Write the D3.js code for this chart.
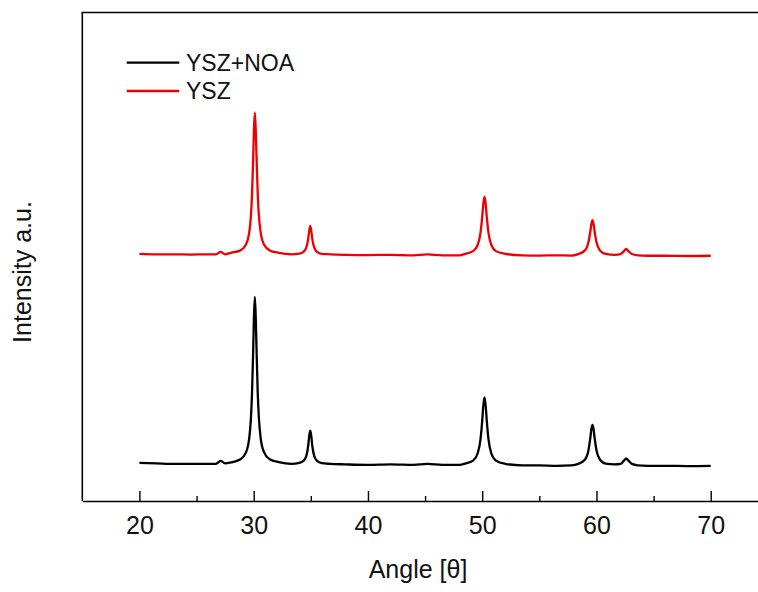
<!DOCTYPE html>
<html>
<head>
<meta charset="utf-8">
<script src="https://cdn.jsdelivr.net/npm/d3@7"></script>
<style>
  body { margin: 0; background: #fff; }
  svg { display: block; font-family: "Liberation Sans", Arial, sans-serif; }
</style>
</head>
<body>
<svg id="chart" width="758" height="592"></svg>
<script>
// diffraction angle, shared by both patterns
var angles = [20, 21.5, 23, 24.5, 26, 26.7, 27.1, 27.5, 28.0,
  28.8, 29.3, 29.6, 29.75, 29.85, 29.95, 30.02, 30.1, 30.18, 30.25, 30.35, 30.45, 30.6, 30.9, 31.4, 32.2,
  33.3, 34.0, 34.35, 34.6, 34.75, 34.88, 34.95, 35.02, 35.15, 35.3, 35.55, 35.95, 36.7,
  38, 40, 42, 44, 45.2, 46.5, 48,
  48.5, 49.2, 49.6, 49.85, 50.0, 50.1, 50.2, 50.3, 50.4, 50.55, 50.8, 51.2, 52.0,
  53.5, 55, 56.5, 57.8,
  58.4, 59.0, 59.3, 59.45, 59.57, 59.65, 59.73, 59.85, 60.0, 60.3, 60.8,
  61.6, 62.1, 62.4, 62.6, 62.8, 63.1, 63.6,
  64.5, 66, 68, 70];

// intensity (a.u., stacked as plotted)
var ysznoa = [7.8, 7.7, 7.6, 7.6, 7.6, 7.6, 8.2, 7.7, 7.9,
  8.5, 9.8, 12.7, 16.6, 21.8, 30.2, 37.5, 41.8, 37.5, 31.1, 22.4, 17.2, 13.1, 10.0, 8.55, 7.95,
  7.6, 7.8, 8.2, 9.2, 10.95, 13.65, 14.4, 13.65, 10.95, 9.2, 8.2, 7.75, 7.6,
  7.5, 7.4, 7.5, 7.4, 7.6, 7.4, 7.4,
  7.65, 8.27, 9.72, 12.6, 16.4, 19.6, 21.2, 19.6, 16.4, 12.6, 9.72, 8.27, 7.62,
  7.3, 7.3, 7.2, 7.3,
  7.6, 8.5, 10.4, 12.7, 14.95, 15.6, 14.95, 12.7, 10.4, 8.5, 7.65,
  7.5, 7.6, 8.25, 8.7, 8.25, 7.6, 7.3,
  7.2, 7.2, 7.15, 7.2];

var ysz = [50.6, 50.5, 50.5, 50.45, 50.5, 50.5, 51.0, 50.5, 50.8,
  51.25, 52.4, 54.8, 58.1, 62.5, 69.7, 75.9, 79.5, 75.9, 70.4, 63.1, 58.6, 55.2, 52.5, 51.3, 50.8,
  50.5, 50.65, 51.0, 51.85, 53.35, 55.65, 56.3, 55.65, 53.35, 51.85, 51.0, 50.6, 50.5,
  50.4, 50.35, 50.4, 50.3, 50.5, 50.3, 50.3,
  50.6, 51.15, 52.4, 54.9, 58.15, 60.9, 62.3, 60.9, 58.15, 54.9, 52.4, 51.15, 50.6,
  50.3, 50.25, 50.3, 50.25,
  50.55, 51.3, 53.0, 55.0, 56.9, 57.5, 56.9, 55.0, 53.0, 51.3, 50.6,
  50.4, 50.55, 51.15, 51.6, 51.15, 50.55, 50.3,
  50.2, 50.2, 50.15, 50.2];

var seriesNames = ["YSZ+NOA", "YSZ"];
var seriesColors = ["#000000", "#ee0000"];
var majorTicks = [20, 30, 40, 50, 60, 70];
var minorTicks = [25, 35, 45, 55, 65, 75];

var svg = d3.select("#chart");
var plotLeft = 82.3, plotBottom = 501, plotTop = 12.5;

var x = d3.scaleLinear().domain([15, 75]).range([plotLeft, plotLeft + 60 * 11.426]);
var y = d3.scaleLinear().domain([0, 100]).range([plotBottom, plotTop]);

var line = d3.line()
    .x(function (d) { return x(d[0]); })
    .y(function (d) { return y(d[1]); })
    .curve(d3.curveMonotoneX);

[ysznoa, ysz].forEach(function (vals, i) {
    svg.append("path")
        .datum(angles.map(function (a, j) { return [a, vals[j]]; }))
        .attr("fill", "none")
        .attr("stroke", seriesColors[i])
        .attr("stroke-width", 2.3)
        .attr("stroke-linejoin", "round")
        .attr("d", line);
});

// frame: left spine and top border (right side is cut off)
svg.append("path")
    .attr("d", "M" + plotLeft + "," + plotBottom + "V" + plotTop + "H758")
    .attr("fill", "none")
    .attr("stroke", "#000")
    .attr("stroke-width", 1.6);

var xAxis = svg.append("g")
    .attr("transform", "translate(0," + plotBottom + ")")
    .call(d3.axisBottom(x).tickValues(majorTicks).tickSize(-10).tickSizeOuter(0).tickPadding(15));
xAxis.select(".domain").attr("stroke-width", 1.6);
xAxis.selectAll(".tick line").attr("stroke-width", 1.4);
xAxis.selectAll(".tick text")
    .attr("font-size", 25)
    .attr("font-family", "Liberation Sans, Arial, sans-serif")
    .attr("fill", "#111");

svg.append("g")
    .attr("transform", "translate(0," + plotBottom + ")")
    .call(d3.axisBottom(x).tickValues(minorTicks).tickSize(-5).tickFormat(""))
    .call(function (g) { g.select(".domain").remove(); })
    .selectAll(".tick line").attr("stroke-width", 1.4);

svg.append("text")
    .attr("x", 418).attr("y", 578)
    .attr("text-anchor", "middle")
    .attr("font-size", 25)
    .attr("fill", "#111")
    .text("Angle [\u03b8]");

svg.append("text")
    .attr("transform", "translate(31,272) rotate(-90)")
    .attr("text-anchor", "middle")
    .attr("font-size", 25)
    .attr("fill", "#111")
    .text("Intensity a.u.");

// legend
var legend = svg.append("g");
seriesNames.forEach(function (name, i) {
    var ly = 62.7 + i * 28.3;
    legend.append("line")
        .attr("x1", 126.7).attr("x2", 179.3)
        .attr("y1", ly).attr("y2", ly)
        .attr("stroke", seriesColors[i])
        .attr("stroke-width", 2.3);
    legend.append("text")
        .attr("x", 186).attr("y", ly + 8)
        .attr("font-size", 23)
        .attr("fill", "#111")
        .text(name);
});
</script>
</body>
</html>
